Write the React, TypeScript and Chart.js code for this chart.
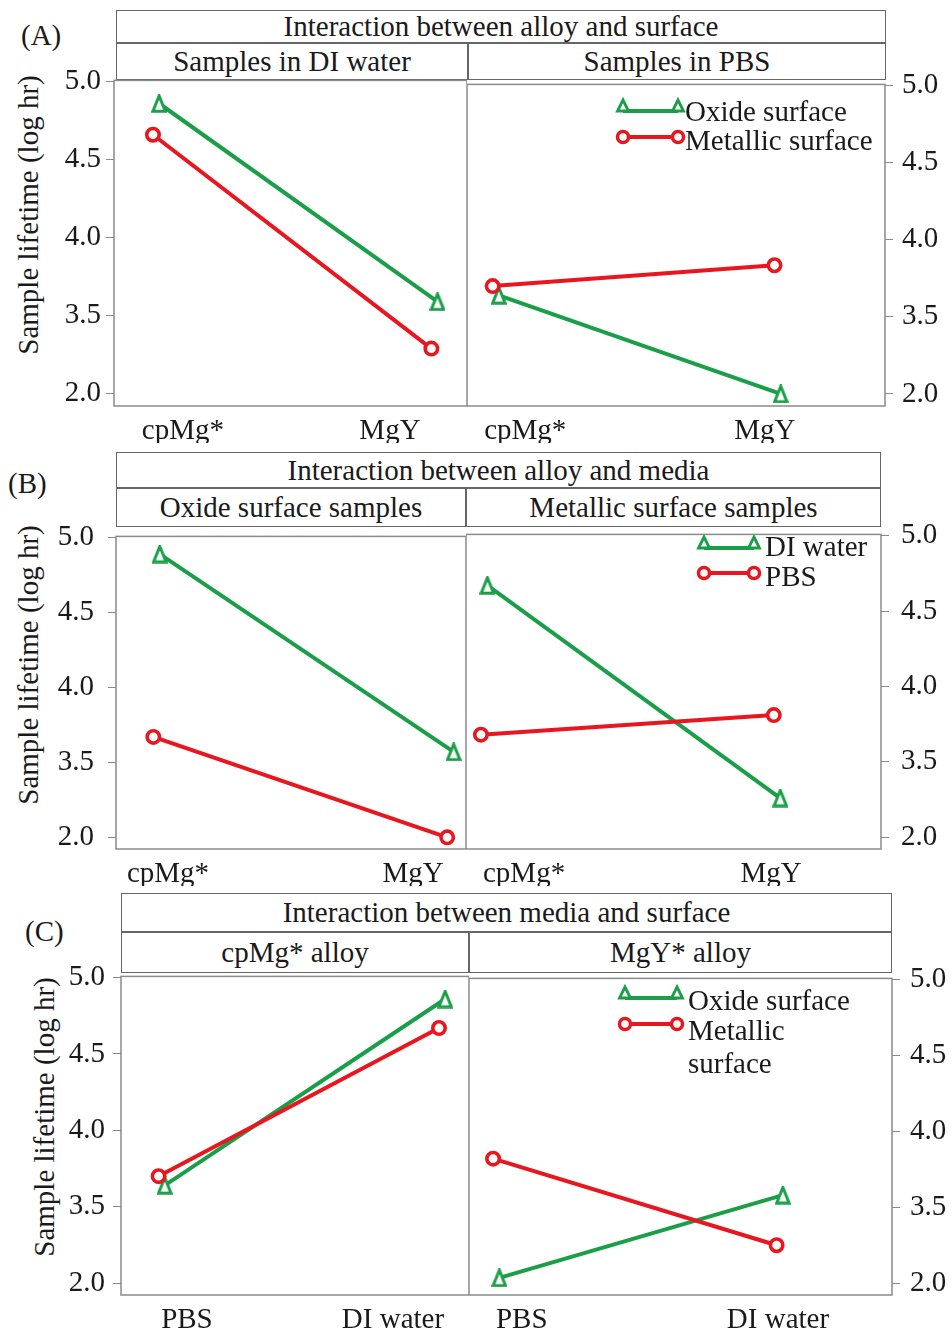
import React, { useEffect, useRef } from "react";
import { Chart, registerables } from "chart.js";

Chart.register(...registerables);

// ---------- data ----------
const ALLOYS = ["cpMg*", "MgY"];
const MEDIA = ["PBS", "DI water"];

// y axis: the figure labels the lowest tick "2.0" (evenly spaced with 3.5..5.0)
const Y_TICK_VALUES = [3.0, 3.5, 4.0, 4.5, 5.0];
const Y_TICK_LABELS = ["2.0", "3.5", "4.0", "4.5", "5.0"];

// (A) Interaction between alloy and surface
const A_DI_OXIDE = [4.86, 3.59];
const A_DI_METALLIC = [4.66, 3.29];
const A_PBS_OXIDE = [3.64, 3.0];
const A_PBS_METALLIC = [3.7, 3.835];

// (B) Interaction between alloy and media
const B_OXIDE_DI = [4.89, 3.57];
const B_OXIDE_PBS = [3.67, 3.0];
const B_METALLIC_DI = [4.67, 3.26];
const B_METALLIC_PBS = [3.68, 3.81];

// (C) Interaction between media and surface (PBS, DI water)
const C_CPMG_OXIDE = [3.64, 4.86];
const C_CPMG_METALLIC = [3.7, 4.67];
const C_MGY_OXIDE = [3.035, 3.58];
const C_MGY_METALLIC = [3.82, 3.25];

// ---------- styles ----------
const FONT = "'Liberation Serif', 'Times New Roman', serif";
const FS = 29;
const TEXT = "#1a1a1a";
const GREEN = "#1a9f48";
const RED = "#e8161f";
const FRAME = "#8a8a8a";
const STRIP = "#666";
const Y_MIN = 2.922;
const Y_MAX = 5.008;
const DODGE = 0.011;
const PAD_T = 22;
const AXIS_H = 37;

type Marker = "triangle" | "circle";
type Series = { label: string[]; data: number[]; color: string; marker: Marker };
type Legend = { lineX: [number, number]; textX: number; lineY: number[]; textY: number[]; lineHeight: number };
type Spec = {
  side: "left" | "right";
  plot: [number, number, number, number];
  axisW: number;
  yPad: number;
  categories: string[];
  xRange: [number, number];
  labelRange: [number, number];
  series: Series[];
  legend?: Legend;
};

function oxide(data: number[], label: string[] = ["Oxide surface"]): Series {
  return { label, data, color: GREEN, marker: "triangle" };
}
function metallic(data: number[], label: string[] = ["Metallic surface"]): Series {
  return { label, data, color: RED, marker: "circle" };
}

const SPECS: Spec[] = [
  {
    side: "left", plot: [114, 80, 467, 406], axisW: 114, yPad: 5, categories: ALLOYS,
    xRange: [0.849, 2.117], labelRange: [0.667, 2.372],
    series: [oxide(A_DI_OXIDE), metallic(A_DI_METALLIC)],
  },
  {
    side: "right", plot: [467, 80, 885, 406], axisW: 67, yPad: 9, categories: ALLOYS,
    xRange: [0.898, 2.381], labelRange: [0.757, 2.502],
    series: [oxide(A_PBS_OXIDE), metallic(A_PBS_METALLIC)],
    legend: { lineX: [623, 678], textX: 685, lineY: [111, 137], textY: [113, 142], lineHeight: 33 },
  },
  {
    side: "left", plot: [116, 527, 466, 849], axisW: 116, yPad: 14, categories: ALLOYS,
    xRange: [0.862, 2.053], labelRange: [0.788, 2.216],
    series: [
      { label: ["DI water"], data: B_OXIDE_DI, color: GREEN, marker: "triangle" },
      { label: ["PBS"], data: B_OXIDE_PBS, color: RED, marker: "circle" },
    ],
  },
  {
    side: "right", plot: [466, 527, 881, 849], axisW: 71, yPad: 12, categories: ALLOYS,
    xRange: [0.938, 2.355], labelRange: [0.765, 2.445],
    series: [
      { label: ["DI water"], data: B_METALLIC_DI, color: GREEN, marker: "triangle" },
      { label: ["PBS"], data: B_METALLIC_PBS, color: RED, marker: "circle" },
    ],
    legend: { lineX: [704, 754], textX: 765, lineY: [548, 573], textY: [548, 578], lineHeight: 33 },
  },
  {
    side: "left", plot: [121, 973, 469, 1295], axisW: 121, yPad: 8, categories: MEDIA,
    xRange: [0.855, 2.096], labelRange: [0.68, 2.369],
    series: [oxide(C_CPMG_OXIDE), metallic(C_CPMG_METALLIC)],
  },
  {
    side: "right", plot: [469, 973, 892, 1295], axisW: 60, yPad: 10, categories: MEDIA,
    xRange: [0.904, 2.396], labelRange: [0.794, 2.445],
    series: [oxide(C_MGY_OXIDE), metallic(C_MGY_METALLIC, ["Metallic", "surface"])],
    legend: { lineX: [625, 677], textX: 688, lineY: [998, 1024], textY: [1002, 1032], lineHeight: 33 },
  },
];

function makeTriangleImage(color: string, w: number, h: number, bw: number): HTMLCanvasElement {
  const c = document.createElement("canvas");
  c.width = w;
  c.height = h;
  const ctx = c.getContext("2d")!;
  const m = bw / 2 + 0.3;
  ctx.beginPath();
  ctx.moveTo(w / 2, m);
  ctx.lineTo(w - m, h - m);
  ctx.lineTo(m, h - m);
  ctx.closePath();
  ctx.fillStyle = "#fff";
  ctx.fill();
  ctx.lineWidth = bw;
  ctx.lineJoin = "miter";
  ctx.strokeStyle = color;
  ctx.stroke();
  return c;
}

function drawLegendMarker(ctx: CanvasRenderingContext2D, kind: Marker, x: number, y: number, color: string) {
  ctx.save();
  ctx.beginPath();
  if (kind === "circle") {
    ctx.arc(x, y, 5.5, 0, Math.PI * 2);
    ctx.lineWidth = 3.5;
  } else {
    ctx.moveTo(x, y - 11);
    ctx.lineTo(x + 5.5, y);
    ctx.lineTo(x - 5.5, y);
    ctx.closePath();
    ctx.lineWidth = 2.8;
  }
  ctx.fillStyle = "#fff";
  ctx.fill();
  ctx.strokeStyle = color;
  ctx.stroke();
  ctx.restore();
}

function Subplot({ spec }: { spec: Spec }) {
  const ref = useRef<HTMLCanvasElement | null>(null);
  const [l, t, r, b] = spec.plot;
  const canvasLeft = spec.side === "left" ? l - spec.axisW : l;
  const canvasTop = t - PAD_T;
  const width = r - l + spec.axisW;
  const height = b - t + PAD_T + AXIS_H;

  useEffect(() => {
    if (!ref.current) return;
    const tri = makeTriangleImage(GREEN, 16, 19, 3);
    const ordered = spec.series.slice().sort((a) => (a.marker === "circle" ? -1 : 1));
    const datasets = ordered.map((s) => ({
      label: s.label.join(" "),
      data: s.data.map((v, i) => ({ x: i + 1 + (s.marker === "triangle" ? DODGE : -DODGE), y: v })),
      xAxisID: "x",
      yAxisID: "y",
      borderColor: s.color,
      borderWidth: 4,
      pointStyle: s.marker === "triangle" ? (tri as any) : "circle",
      pointRadius: s.marker === "triangle" ? 8 : 6.2,
      pointBorderWidth: 3.6,
      pointBorderColor: s.color,
      pointBackgroundColor: "#fff",
      clip: false as any,
      tension: 0,
    }));

    const framePlugin = {
      id: "frame",
      beforeDatasetsDraw(chart: any) {
        const { left, top, right, bottom } = chart.chartArea;
        const ctx = chart.ctx;
        ctx.save();
        ctx.strokeStyle = FRAME;
        ctx.lineWidth = 1.5;
        ctx.strokeRect(left, top, right - left, bottom - top);
        ctx.restore();
      },
    };

    const legendPlugin = {
      id: "pairLegend",
      afterDraw(chart: any) {
        const lg = spec.legend;
        if (!lg) return;
        const ctx: CanvasRenderingContext2D = chart.ctx;
        const ox = canvasLeft;
        const oy = canvasTop;
        spec.series.forEach((s, i) => {
          const ly = lg.lineY[i] - oy;
          const x0 = lg.lineX[0] - ox;
          const x1 = lg.lineX[1] - ox;
          ctx.save();
          ctx.strokeStyle = s.color;
          ctx.lineWidth = 4;
          ctx.beginPath();
          ctx.moveTo(x0, ly);
          ctx.lineTo(x1, ly);
          ctx.stroke();
          ctx.restore();
          drawLegendMarker(ctx, s.marker, x0, ly, s.color);
          drawLegendMarker(ctx, s.marker, x1, ly, s.color);
          ctx.save();
          ctx.fillStyle = TEXT;
          ctx.font = `${FS}px ${FONT}`;
          ctx.textAlign = "left";
          ctx.textBaseline = "middle";
          s.label.forEach((line, k) => {
            ctx.fillText(line, lg.textX - ox, lg.textY[i] - oy + k * lg.lineHeight);
          });
          ctx.restore();
        });
      },
    };

    const font = { family: FONT, size: FS };
    const chart = new Chart(ref.current, {
      type: "line",
      data: { datasets: datasets as any },
      options: {
        animation: false,
        responsive: false,
        devicePixelRatio: 1,
        events: [],
        layout: { padding: { top: PAD_T, left: 0, right: 0, bottom: 0 }, autoPadding: false } as any,
        plugins: { legend: { display: false }, tooltip: { enabled: false }, title: { display: false } },
        scales: {
          x: { type: "linear", display: false, min: spec.xRange[0], max: spec.xRange[1] },
          xl: {
            type: "linear",
            axis: "x",
            position: "bottom",
            min: spec.labelRange[0],
            max: spec.labelRange[1],
            bounds: "data",
            afterBuildTicks: (ax: any) => {
              ax.ticks = spec.categories.map((_, i) => ({ value: i + 1 }));
            },
            afterFit: (ax: any) => {
              ax.height = AXIS_H;
            },
            grid: { display: false, drawTicks: false },
            border: { display: false },
            ticks: {
              font,
              color: TEXT,
              padding: 8,
              maxRotation: 0,
              autoSkip: false,
              callback: (v: any) => spec.categories[Math.round(Number(v)) - 1] ?? "",
            },
          } as any,
          y: {
            type: "linear",
            position: spec.side,
            min: Y_MIN,
            max: Y_MAX,
            bounds: "data",
            afterBuildTicks: (ax: any) => {
              ax.ticks = Y_TICK_VALUES.map((v) => ({ value: v }));
            },
            afterFit: (ax: any) => {
              ax.width = spec.axisW;
            },
            grid: { drawOnChartArea: false, drawTicks: true, tickLength: 8, color: FRAME, lineWidth: 1 },
            border: { display: false },
            ticks: {
              font,
              color: TEXT,
              padding: spec.yPad,
              autoSkip: false,
              callback: (v: any) => {
                const idx = Y_TICK_VALUES.findIndex((tv) => Math.abs(tv - Number(v)) < 1e-6);
                return idx >= 0 ? Y_TICK_LABELS[idx] : "";
              },
            },
          } as any,
        },
      },
      plugins: [framePlugin, legendPlugin],
    });
    return () => chart.destroy();
  }, []);

  return (
    <canvas
      ref={ref}
      width={width}
      height={height}
      style={{ position: "absolute", left: canvasLeft, top: canvasTop, width, height }}
    />
  );
}

type Box = { l: number; t: number; r: number; b: number; text: string };

const STRIPS: Box[] = [
  { l: 116, t: 10, r: 886, b: 43, text: "Interaction between alloy and surface" },
  { l: 116, t: 43, r: 468, b: 80, text: "Samples in DI water" },
  { l: 468, t: 43, r: 886, b: 80, text: "Samples in PBS" },
  { l: 116, t: 452, r: 881, b: 488, text: "Interaction between alloy and media" },
  { l: 116, t: 488, r: 466, b: 527, text: "Oxide surface samples" },
  { l: 466, t: 488, r: 881, b: 527, text: "Metallic surface samples" },
  { l: 121, t: 893, r: 892, b: 932, text: "Interaction between media and surface" },
  { l: 121, t: 932, r: 469, b: 973, text: "cpMg* alloy" },
  { l: 469, t: 932, r: 892, b: 973, text: "MgY* alloy" },
];

const Y_TITLES = [
  { x: 27.5, y: 215 },
  { x: 28, y: 665 },
  { x: 43.5, y: 1117 },
];
const Y_TITLE = "Sample lifetime (log hr)";

const PANEL_LABELS = [
  { text: "(A)", x: 21, y: 35 },
  { text: "(B)", x: 8, y: 483 },
  { text: "(C)", x: 25, y: 931 },
];

export default function App() {
  const textStyle: React.CSSProperties = {
    fontFamily: FONT,
    fontSize: FS,
    color: TEXT,
    lineHeight: `${FS}px`,
    whiteSpace: "nowrap",
    position: "absolute",
  };
  return (
    <div style={{ position: "absolute", left: 0, top: 0, width: 952, height: 1332, overflow: "hidden", background: "#fff" }}>
      {STRIPS.map((s, i) => (
        <div
          key={"s" + i}
          style={{
            position: "absolute",
            left: s.l,
            top: s.t,
            width: s.r - s.l,
            height: s.b - s.t,
            border: `1px solid ${STRIP}`,
            boxSizing: "border-box",
            display: "flex",
            alignItems: "center",
            justifyContent: "center",
            fontFamily: FONT,
            fontSize: FS,
            color: TEXT,
            whiteSpace: "nowrap",
          }}
        >
          {s.text}
        </div>
      ))}
      {Y_TITLES.map((p, i) => (
        <div
          key={"yt" + i}
          style={{ ...textStyle, left: p.x, top: p.y, transform: "translate(-50%, -50%) rotate(-90deg)" }}
        >
          {Y_TITLE}
        </div>
      ))}
      {PANEL_LABELS.map((p, i) => (
        <div key={"pl" + i} style={{ ...textStyle, left: p.x, top: p.y - FS / 2 }}>
          {p.text}
        </div>
      ))}
      {SPECS.map((s, i) => (
        <Subplot key={"c" + i} spec={s} />
      ))}
    </div>
  );
}
